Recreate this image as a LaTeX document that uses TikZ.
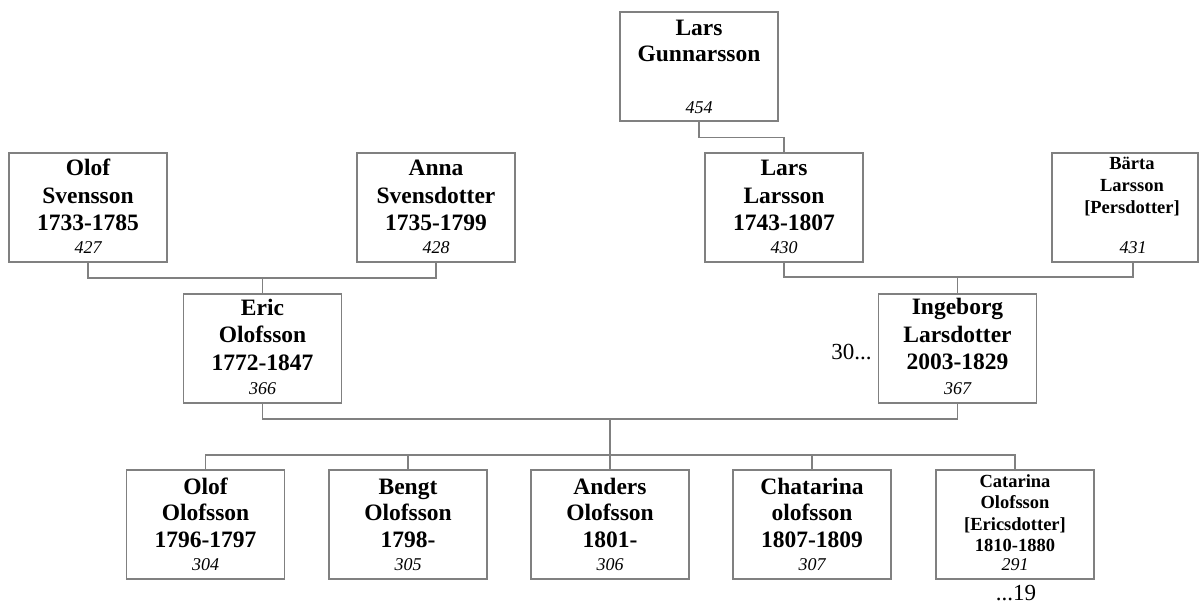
\documentclass[tikz,border=0pt]{standalone}
\usepackage{fontspec}
\setmainfont{Liberation Serif}
\definecolor{linegray}{RGB}{128,128,128}
\tikzset{
  pbox/.style={rectangle, draw=linegray, line width=1.2pt, minimum width=158pt, minimum height=109pt, inner sep=0pt},
  nm/.style={font=\fontsize{23.5}{27.5}\selectfont\bfseries, align=center, anchor=base, inner sep=0pt, text width=156pt},
  nmc/.style={font=\fontsize{23.5}{26.5}\selectfont\bfseries, align=center, anchor=base, inner sep=0pt, text width=156pt},
  nms/.style={font=\fontsize{18.5}{22}\selectfont\bfseries, align=center, anchor=base, inner sep=0pt, text width=156pt},
  num/.style={font=\fontsize{18}{21}\selectfont\itshape, anchor=base, inner sep=0pt},
  lbl/.style={font=\fontsize{23}{27}\selectfont, inner sep=0pt},
  conn/.style={draw=linegray, line width=1.2pt},
}
\begin{document}
\begin{tikzpicture}[x=1pt,y=-1pt]
\useasboundingbox (0,0) rectangle (1199,603);

% boxes
\node[pbox] (lg) at (699,66.5) {};
\node[pbox] (os) at (88,207.5) {};
\node[pbox] (as) at (436,207.5) {};
\node[pbox] (ll) at (784,207.5) {};
\node[pbox, minimum width=146pt] (bl) at (1125,207.5) {};
\node[pbox] (er) at (262.5,348.5) {};
\node[pbox] (ig) at (957.5,348.5) {};
\node[pbox] (c1) at (205.5,524.5) {};
\node[pbox] (c2) at (408,524.5) {};
\node[pbox] (c3) at (610,524.5) {};
\node[pbox] (c4) at (812,524.5) {};
\node[pbox] (c5) at (1015,524.5) {};

% names
\node[nm] (lg-t) at ([yshift=-24pt]lg.north) {Lars\\[-1.5pt]Gunnarsson};
\node[nm] (os-t) at ([yshift=-23.5pt]os.north) {Olof\\Svensson\\1733-1785};
\node[nm] (as-t) at ([yshift=-23.5pt]as.north) {Anna\\Svensdotter\\1735-1799};
\node[nm] (ll-t) at ([yshift=-23.5pt]ll.north) {Lars\\Larsson\\1743-1807};
\node[nms] (bl-t) at ([xshift=7pt,yshift=-17pt]bl.north) {Bärta\\Larsson\\{[Persdotter]}};
\node[nm] (er-t) at ([yshift=-22pt]er.north) {Eric\\Olofsson\\1772-1847};
\node[nm] (ig-t) at ([yshift=-21.5pt]ig.north) {Ingeborg\\Larsdotter\\2003-1829};
\node[nmc] (c1-t) at ([yshift=-25pt]c1.north) {Olof\\Olofsson\\1796-1797};
\node[nmc] (c2-t) at ([yshift=-25pt]c2.north) {Bengt\\Olofsson\\1798-};
\node[nmc] (c3-t) at ([yshift=-25pt]c3.north) {Anders\\Olofsson\\1801-};
\node[nmc] (c4-t) at ([yshift=-25pt]c4.north) {Chatarina\\olofsson\\1807-1809};
\node[nms, font=\fontsize{18.5}{21.5}\selectfont\bfseries] (c5-t) at ([yshift=-18pt]c5.north) {Catarina\\Olofsson\\{[Ericsdotter]}\\1810-1880};

% numbers
\node[num] (lg-n) at ([yshift=8.5pt]lg.south) {454};
\node[num] (os-n) at ([yshift=9pt]os.south) {427};
\node[num] (as-n) at ([yshift=9pt]as.south) {428};
\node[num] (ll-n) at ([yshift=9pt]ll.south) {430};
\node[num] (bl-n) at ([xshift=8pt,yshift=9pt]bl.south) {431};
\node[num] (er-n) at ([yshift=9pt]er.south) {366};
\node[num] (ig-n) at ([yshift=9pt]ig.south) {367};
\node[num] (c1-n) at ([yshift=9.5pt]c1.south) {304};
\node[num] (c2-n) at ([yshift=9.5pt]c2.south) {305};
\node[num] (c3-n) at ([yshift=9.5pt]c3.south) {306};
\node[num] (c4-n) at ([yshift=9.5pt]c4.south) {307};
\node[num] (c5-n) at ([yshift=9pt]c5.south) {291};

% side labels
\node[lbl, anchor=base east] (l30) at ([xshift=-6pt]ig.west |- 0,359) {30...};
\node[lbl, anchor=base] (l19) at (1016,600) {...19};

% connectors
\coordinate (bls) at ([xshift=8pt]bl.south);
\draw[conn] (lg.south) -- ++(0,16) -| (ll.north);
\draw[conn] (os.south) -- (os.south |- 0,278) -| (as.south);
\draw[conn] (er.north) -- (er.north |- 0,278);
\draw[conn] (ll.south) -- (ll.south |- 0,277) -| (bls);
\draw[conn] (ig.north) -- (ig.north |- 0,277);
\draw[conn] (er.south) -- (er.south |- 0,419) -| (ig.south);
\coordinate (mid) at (610,419);
\draw[conn] (mid) -- (610,455);
\draw[conn] (c1.north) -- (c1.north |- 0,455) -- (c5.north |- 0,455) -- (c5.north);
\draw[conn] (c2.north) -- (c2.north |- 0,455);
\draw[conn] (c3.north) -- (c3.north |- 0,455);
\draw[conn] (c4.north) -- (c4.north |- 0,455);
\end{tikzpicture}
\end{document}
